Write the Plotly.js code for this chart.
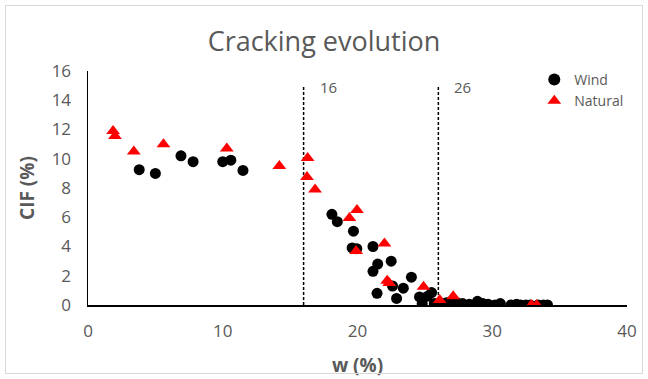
<!DOCTYPE html>
<html>
<head>
<meta charset="utf-8">
<script src="https://cdn.plot.ly/plotly-3.0.1.min.js"></script>
<style>
  html, body { margin: 0; padding: 0; background: #fff; }
  #wrap { position: relative; width: 648px; height: 379px; }
  #chart { position: absolute; left: 0; top: 0; width: 648px; height: 379px; }
  #frame { position: absolute; left: 5px; top: 5px; width: 636px; height: 367px; border: 1px solid #d9d9d9; pointer-events: none; }
</style>
</head>
<body>
<div id="wrap"><div id="chart"></div><div id="frame"></div></div>
<script>
// Wind series
const windW = [3.8, 5.0, 6.9, 7.8, 10.0, 10.6, 11.5, 18.1, 18.5, 19.7, 19.6, 19.95, 21.15, 22.5, 21.5, 21.15, 21.45, 22.6, 23.4, 22.9, 24.0, 24.6, 24.8, 25.2, 25.5, 25.7, 26.3, 26.6, 26.9, 27.4, 27.8, 28.3, 28.9, 29.3, 29.7, 30.2, 30.6, 31.4, 31.8, 32.1, 32.5, 32.8, 33.4, 33.8, 34.1];
const windCIF = [9.25, 9.0, 10.2, 9.8, 9.8, 9.9, 9.2, 6.2, 5.7, 5.05, 3.9, 3.85, 4.0, 3.0, 2.8, 2.3, 0.8, 1.3, 1.15, 0.45, 1.9, 0.55, 0.1, 0.6, 0.85, 0.1, 0.1, 0.15, 0.2, 0.15, 0.1, 0.05, 0.25, 0.1, 0.05, 0.0, 0.1, 0.0, 0.05, 0.0, 0.0, 0.0, 0.0, 0.0, 0.0];
// Natural series
const natW = [1.86, 2.0, 3.4, 5.6, 10.3, 14.2, 16.3, 16.25, 16.85, 19.96, 19.4, 19.9, 22.0, 22.2, 22.35, 24.9, 26.1, 27.1, 32.9, 33.3];
const natCIF = [11.9, 11.55, 10.5, 11.0, 10.7, 9.5, 10.05, 8.75, 7.9, 6.5, 5.95, 3.7, 4.2, 1.65, 1.5, 1.25, 0.35, 0.6, 0.0, 0.0];
// Threshold lines
const thresholds = [16, 26];
const thresholdTop = 15;

const xTicks = [0, 10, 20, 30, 40];
const yTicks = [0, 2, 4, 6, 8, 10, 12, 14, 16];

const grey = '#595959';
const fontFam = 'Open Sans, Liberation Sans, sans-serif';

const traces = [
  { x: windW, y: windCIF, type: 'scatter', mode: 'markers', name: 'Wind',
    marker: { symbol: 'circle', color: '#000000', size: 11 } },
  { x: natW, y: natCIF, type: 'scatter', mode: 'markers', name: 'Natural',
    marker: { symbol: 'triangle-up', color: '#ff0000', size: 12 } }
];

const shapes = thresholds.map(t => ({
  type: 'line', xref: 'x', yref: 'y', x0: t, x1: t, y0: 0, y1: thresholdTop,
  line: { color: '#000000', width: 1.5, dash: '3px,2px' }, layer: 'below'
}));
const annotations = thresholds.map(t => ({
  x: t, y: thresholdTop, xref: 'x', yref: 'y', text: String(t), showarrow: false,
  xanchor: 'left', yanchor: 'middle', xshift: 14, yshift: -1,
  font: { family: fontFam, size: 15, color: grey }
}));

const layout = {
  width: 648, height: 379,
  margin: { l: 88, r: 21, t: 71, b: 74 },
  paper_bgcolor: '#ffffff', plot_bgcolor: '#ffffff',
  title: { text: 'Cracking evolution', x: 0.5, xanchor: 'center', y: 0.89, yanchor: 'middle',
    font: { family: fontFam, size: 27, color: grey } },
  showlegend: true,
  legend: { x: 0.828, y: 1.03, xanchor: 'left', yanchor: 'top', bgcolor: 'rgba(0,0,0,0)',
    font: { family: fontFam, size: 14, color: grey }, itemsizing: 'constant', tracegroupgap: 0 },
  xaxis: { range: [0, 40], tickvals: xTicks, showgrid: false, zeroline: false, automargin: false,
    showline: true, linecolor: '#000000', linewidth: 1.5, ticks: '', ticklabelstandoff: 10,
    tickfont: { family: fontFam, size: 17, color: grey },
    title: { text: '<b>w (%)</b>', standoff: 18, font: { family: fontFam, size: 19, color: grey } } },
  yaxis: { range: [0, 16], tickvals: yTicks, showgrid: false, zeroline: false, automargin: false,
    showline: true, linecolor: '#000000', linewidth: 1.5, ticks: '', ticklabelstandoff: 12,
    tickfont: { family: fontFam, size: 17, color: grey },
    title: { text: '<b>CIF (%)</b>', standoff: 12, font: { family: fontFam, size: 19, color: grey } } },
  shapes: shapes,
  annotations: annotations
};

Plotly.newPlot('chart', traces, layout, { displayModeBar: false, staticPlot: true });
</script>
</body>
</html>
